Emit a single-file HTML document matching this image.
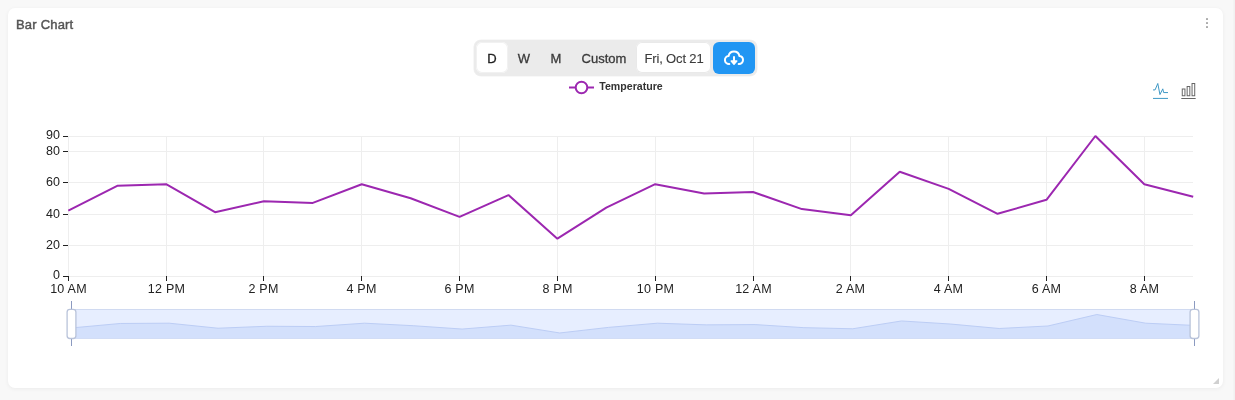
<!DOCTYPE html>
<html>
<head>
<meta charset="utf-8">
<title>Bar Chart</title>
<style>
html,body{margin:0;padding:0;}
body{width:1235px;height:400px;background:#f8f8f8;overflow:hidden;position:relative;font-family:"Liberation Sans",sans-serif;}
.card{position:absolute;left:8px;top:8px;width:1215px;height:380px;background:#fff;border-radius:7px;box-shadow:0 1px 4px rgba(0,0,0,0.055);}
.title{position:absolute;left:16px;top:17px;font-size:13px;font-weight:normal;-webkit-text-stroke:0.45px #555;color:#555;line-height:16px;white-space:nowrap;letter-spacing:0.2px;}
.grp{position:absolute;left:474px;top:40px;width:282.5px;height:36px;background:#ebebeb;border-radius:7px;box-shadow:0 0 0 0.6px #f2f2f2;}
.btn{position:absolute;top:41px;height:36px;line-height:36px;font-size:13px;color:#3a3a3a;-webkit-text-stroke:0.3px #3a3a3a;text-align:center;white-space:nowrap;}
.sel{position:absolute;left:476.3px;top:42.2px;width:31.5px;height:31.3px;background:#fff;border-radius:6px;box-shadow:inset 0 0 0 1px #f1f1f1;}
.date{position:absolute;left:636.4px;top:42.3px;width:75px;height:31.2px;background:#fff;border-radius:6px;box-shadow:inset 0 0 0 1px #e9e9e9;}
.dl{position:absolute;left:713px;top:42px;width:42px;height:32px;background:#2196f3;border-radius:6px;}
svg{position:absolute;left:0;top:0;}
</style>
</head>
<body>
<div class="card"></div>
<div style="position:absolute;left:1233px;top:0;width:2px;height:400px;background:linear-gradient(to right,rgba(0,0,0,0.01),rgba(0,0,0,0.035));"></div>
<div class="title">Bar Chart</div>
<div class="grp"></div>
<div class="sel"></div>
<div class="date"></div>
<div class="dl"></div>
<div class="btn" style="left:477px;width:30px;color:#222;-webkit-text-stroke:0.3px #222;">D</div>
<div class="btn" style="left:509px;width:30px;">W</div>
<div class="btn" style="left:541px;width:30px;">M</div>
<div class="btn" style="left:574px;width:60px;">Custom</div>
<div class="btn" style="left:637px;width:74px;color:#3c3c3c;-webkit-text-stroke:0.12px #3c3c3c;letter-spacing:-0.15px;">Fri, Oct 21</div>
<svg id="chart" width="1235" height="400" viewBox="0 0 1235 400">
<style>.ax{font-family:"Liberation Sans",sans-serif;font-size:12.5px;letter-spacing:0.25px;fill:#222;}.lg{font-family:"Liberation Sans",sans-serif;font-size:10.6px;font-weight:bold;fill:#333;}</style>
<line x1="68" y1="276.5" x2="1193" y2="276.5" stroke="#eeeeee" stroke-width="1"/>
<line x1="68" y1="245.5" x2="1193" y2="245.5" stroke="#eeeeee" stroke-width="1"/>
<line x1="68" y1="214.5" x2="1193" y2="214.5" stroke="#eeeeee" stroke-width="1"/>
<line x1="68" y1="182.5" x2="1193" y2="182.5" stroke="#eeeeee" stroke-width="1"/>
<line x1="68" y1="151.5" x2="1193" y2="151.5" stroke="#eeeeee" stroke-width="1"/>
<line x1="68" y1="136.5" x2="1193" y2="136.5" stroke="#eeeeee" stroke-width="1"/>
<line x1="68.5" y1="136" x2="68.5" y2="277" stroke="#eeeeee" stroke-width="1"/>
<line x1="166.5" y1="136" x2="166.5" y2="277" stroke="#eeeeee" stroke-width="1"/>
<line x1="263.5" y1="136" x2="263.5" y2="277" stroke="#eeeeee" stroke-width="1"/>
<line x1="361.5" y1="136" x2="361.5" y2="277" stroke="#eeeeee" stroke-width="1"/>
<line x1="459.5" y1="136" x2="459.5" y2="277" stroke="#eeeeee" stroke-width="1"/>
<line x1="557.5" y1="136" x2="557.5" y2="277" stroke="#eeeeee" stroke-width="1"/>
<line x1="655.5" y1="136" x2="655.5" y2="277" stroke="#eeeeee" stroke-width="1"/>
<line x1="753.5" y1="136" x2="753.5" y2="277" stroke="#eeeeee" stroke-width="1"/>
<line x1="850.5" y1="136" x2="850.5" y2="277" stroke="#eeeeee" stroke-width="1"/>
<line x1="948.5" y1="136" x2="948.5" y2="277" stroke="#eeeeee" stroke-width="1"/>
<line x1="1046.5" y1="136" x2="1046.5" y2="277" stroke="#eeeeee" stroke-width="1"/>
<line x1="1144.5" y1="136" x2="1144.5" y2="277" stroke="#eeeeee" stroke-width="1"/>
<line x1="63" y1="276.5" x2="68" y2="276.5" stroke="#222" stroke-width="1"/>
<text x="60.3" y="278.8" text-anchor="end" class="ax">0</text>
<line x1="63" y1="245.5" x2="68" y2="245.5" stroke="#222" stroke-width="1"/>
<text x="60.3" y="249.4" text-anchor="end" class="ax">20</text>
<line x1="63" y1="214.5" x2="68" y2="214.5" stroke="#222" stroke-width="1"/>
<text x="60.3" y="218.4" text-anchor="end" class="ax">40</text>
<line x1="63" y1="182.5" x2="68" y2="182.5" stroke="#222" stroke-width="1"/>
<text x="60.3" y="186.4" text-anchor="end" class="ax">60</text>
<line x1="63" y1="151.5" x2="68" y2="151.5" stroke="#222" stroke-width="1"/>
<text x="60.3" y="155.4" text-anchor="end" class="ax">80</text>
<line x1="63" y1="136.5" x2="68" y2="136.5" stroke="#222" stroke-width="1"/>
<text x="60.3" y="138.8" text-anchor="end" class="ax">90</text>
<line x1="68.5" y1="276" x2="68.5" y2="281" stroke="#222" stroke-width="1"/>
<text x="68.5" y="293.2" text-anchor="middle" class="ax">10 AM</text>
<line x1="166.5" y1="276" x2="166.5" y2="281" stroke="#222" stroke-width="1"/>
<text x="166.5" y="293.2" text-anchor="middle" class="ax">12 PM</text>
<line x1="263.5" y1="276" x2="263.5" y2="281" stroke="#222" stroke-width="1"/>
<text x="263.5" y="293.2" text-anchor="middle" class="ax">2 PM</text>
<line x1="361.5" y1="276" x2="361.5" y2="281" stroke="#222" stroke-width="1"/>
<text x="361.5" y="293.2" text-anchor="middle" class="ax">4 PM</text>
<line x1="459.5" y1="276" x2="459.5" y2="281" stroke="#222" stroke-width="1"/>
<text x="459.5" y="293.2" text-anchor="middle" class="ax">6 PM</text>
<line x1="557.5" y1="276" x2="557.5" y2="281" stroke="#222" stroke-width="1"/>
<text x="557.5" y="293.2" text-anchor="middle" class="ax">8 PM</text>
<line x1="655.5" y1="276" x2="655.5" y2="281" stroke="#222" stroke-width="1"/>
<text x="655.5" y="293.2" text-anchor="middle" class="ax">10 PM</text>
<line x1="753.5" y1="276" x2="753.5" y2="281" stroke="#222" stroke-width="1"/>
<text x="753.5" y="293.2" text-anchor="middle" class="ax">12 AM</text>
<line x1="850.5" y1="276" x2="850.5" y2="281" stroke="#222" stroke-width="1"/>
<text x="850.5" y="293.2" text-anchor="middle" class="ax">2 AM</text>
<line x1="948.5" y1="276" x2="948.5" y2="281" stroke="#222" stroke-width="1"/>
<text x="948.5" y="293.2" text-anchor="middle" class="ax">4 AM</text>
<line x1="1046.5" y1="276" x2="1046.5" y2="281" stroke="#222" stroke-width="1"/>
<text x="1046.5" y="293.2" text-anchor="middle" class="ax">6 AM</text>
<line x1="1144.5" y1="276" x2="1144.5" y2="281" stroke="#222" stroke-width="1"/>
<text x="1144.5" y="293.2" text-anchor="middle" class="ax">8 AM</text>
<polyline points="68.30,210.67 117.21,185.78 166.12,184.22 215.03,212.22 263.93,201.33 312.84,202.89 361.75,184.22 410.66,198.22 459.57,216.89 508.48,195.11 557.39,238.67 606.30,207.56 655.20,184.22 704.11,193.56 753.02,192.00 801.93,209.11 850.84,215.33 899.75,171.78 948.66,188.89 997.57,213.78 1046.47,199.78 1095.38,136.00 1144.29,184.22 1193.20,196.67" fill="none" stroke="#9c27b0" stroke-width="2" stroke-linejoin="bevel"/>
<line x1="569" y1="87.5" x2="594" y2="87.5" stroke="#9c27b0" stroke-width="2"/>
<circle cx="581.5" cy="87.5" r="5.8" fill="#fff" stroke="#9c27b0" stroke-width="2"/>
<text x="599.3" y="90" class="lg">Temperature</text>
<rect x="71.5" y="309.5" width="1123.0" height="29.0" fill="#e7eeff" stroke="#d0daf1" stroke-width="1"/>
<polygon points="71.5,338.5 71.50,327.94 120.33,323.47 169.15,323.19 217.98,328.22 266.80,326.26 315.63,326.54 364.46,323.19 413.28,325.71 462.11,329.06 510.93,325.15 559.76,332.97 608.59,327.38 657.41,323.19 706.24,324.87 755.07,324.59 803.89,327.66 852.72,328.78 901.54,320.96 950.37,324.03 999.20,328.50 1048.02,325.98 1096.85,314.53 1145.67,323.19 1194.50,325.43 1194.5,338.5" fill="#d3e0fc"/>
<polyline points="71.50,327.94 120.33,323.47 169.15,323.19 217.98,328.22 266.80,326.26 315.63,326.54 364.46,323.19 413.28,325.71 462.11,329.06 510.93,325.15 559.76,332.97 608.59,327.38 657.41,323.19 706.24,324.87 755.07,324.59 803.89,327.66 852.72,328.78 901.54,320.96 950.37,324.03 999.20,328.50 1048.02,325.98 1096.85,314.53 1145.67,323.19 1194.50,325.43" fill="none" stroke="#bccdf5" stroke-width="1"/>
<line x1="71.5" y1="301" x2="71.5" y2="346" stroke="#8b9ac0" stroke-width="1"/>
<rect x="67.1" y="309.3" width="8.8" height="29.2" rx="2.8" fill="#fff" stroke="#b9c3da" stroke-width="1.3"/>
<line x1="1194.5" y1="301" x2="1194.5" y2="346" stroke="#8b9ac0" stroke-width="1"/>
<rect x="1190.1" y="309.3" width="8.8" height="29.2" rx="2.8" fill="#fff" stroke="#b9c3da" stroke-width="1.3"/>
<g transform="translate(1151.804,81.486) scale(0.2918)" fill="none" stroke="#3e98c5" stroke-width="3.427"><path d="M4.1,28.9h7.1l9.3-22l7.4,38l9.7-19.7l3,12.8h14.9M4.1,58h51.4"/></g>
<g transform="translate(1180.470,82.964) scale(0.2679)" fill="none" stroke="#666" stroke-width="3.733"><path d="M6.7,22.9h10V48h-10V22.9zM24.9,13h10v35h-10V13zM43.2,2h10v46h-10V2zM3.1,58h53.7"/></g>
<rect x="1206" y="18" width="2" height="2" rx="0.4" fill="#a6a6a6"/>
<rect x="1206" y="22" width="2" height="2" rx="0.4" fill="#a6a6a6"/>
<rect x="1206" y="26" width="2" height="2" rx="0.4" fill="#a6a6a6"/>
<polygon points="1219,378 1219,384 1213,384" fill="#d0d0d0"/>
<g fill="none" stroke="#fff" stroke-width="2" stroke-linecap="round" stroke-linejoin="round"><path d="M729.3 64 A4 4 0 0 1 728.6 56 A5.5 5.5 0 0 1 739.4 56 A4 4 0 0 1 743 60 A4 4 0 0 1 738.7 64"/><path d="M734 57 V62"/><path d="M731.2 61 H736.8 L734 64.3 Z" fill="#fff" stroke-width="1.4"/></g>
</svg>
</body>
</html>
